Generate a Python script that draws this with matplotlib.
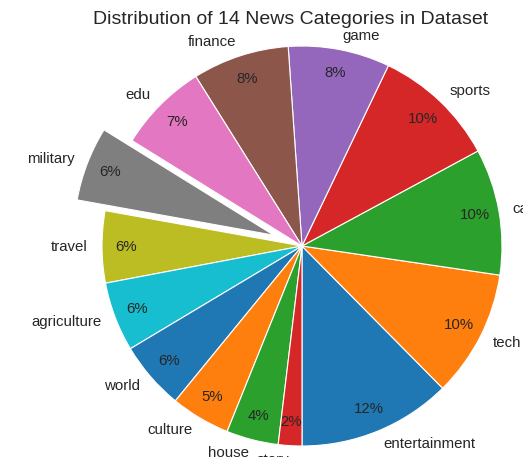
import matplotlib.pyplot as plt

plt.rcParams['font.family'] = ['Liberation Sans', 'DejaVu Sans']
plt.rcParams['text.color'] = '0.15'

categories = ['entertainment', 'tech', 'car', 'sports', 'game', 'finance', 'edu',
              'military', 'travel', 'agriculture', 'world', 'culture', 'house', 'story']
counts = [1240, 1025, 1020, 1000, 820, 780, 725, 600, 580, 560, 550, 480, 420, 190]
explode = [0.15 if c == 'military' else 0 for c in categories]

colors = plt.cm.tab10.colors
colors = [colors[i % 10] for i in range(len(categories))]

fig = plt.figure(figsize=(5.23, 4.57), dpi=100)
# pie centre ~ (302, 246) px, radius ~200 px; limits are +-1.25
ax = fig.add_axes([52 / 523, -39 / 457, 500 / 523, 500 / 457])

ax.pie(counts, labels=categories, colors=colors, explode=explode,
       autopct='%1.0f%%', startangle=-90, counterclock=True,
       labeldistance=1.07, pctdistance=0.88,
       wedgeprops={'edgecolor': 'white', 'linewidth': 0.8},
       textprops={'fontsize': 10.8, 'color': '0.15'})
ax.set_aspect('equal')

fig.text(291 / 523, 1 - 20 / 457, 'Distribution of 14 News Categories in Dataset',
         ha='center', va='center', fontsize=14, color='0.15')

fig.savefig('out.png', dpi=100)
